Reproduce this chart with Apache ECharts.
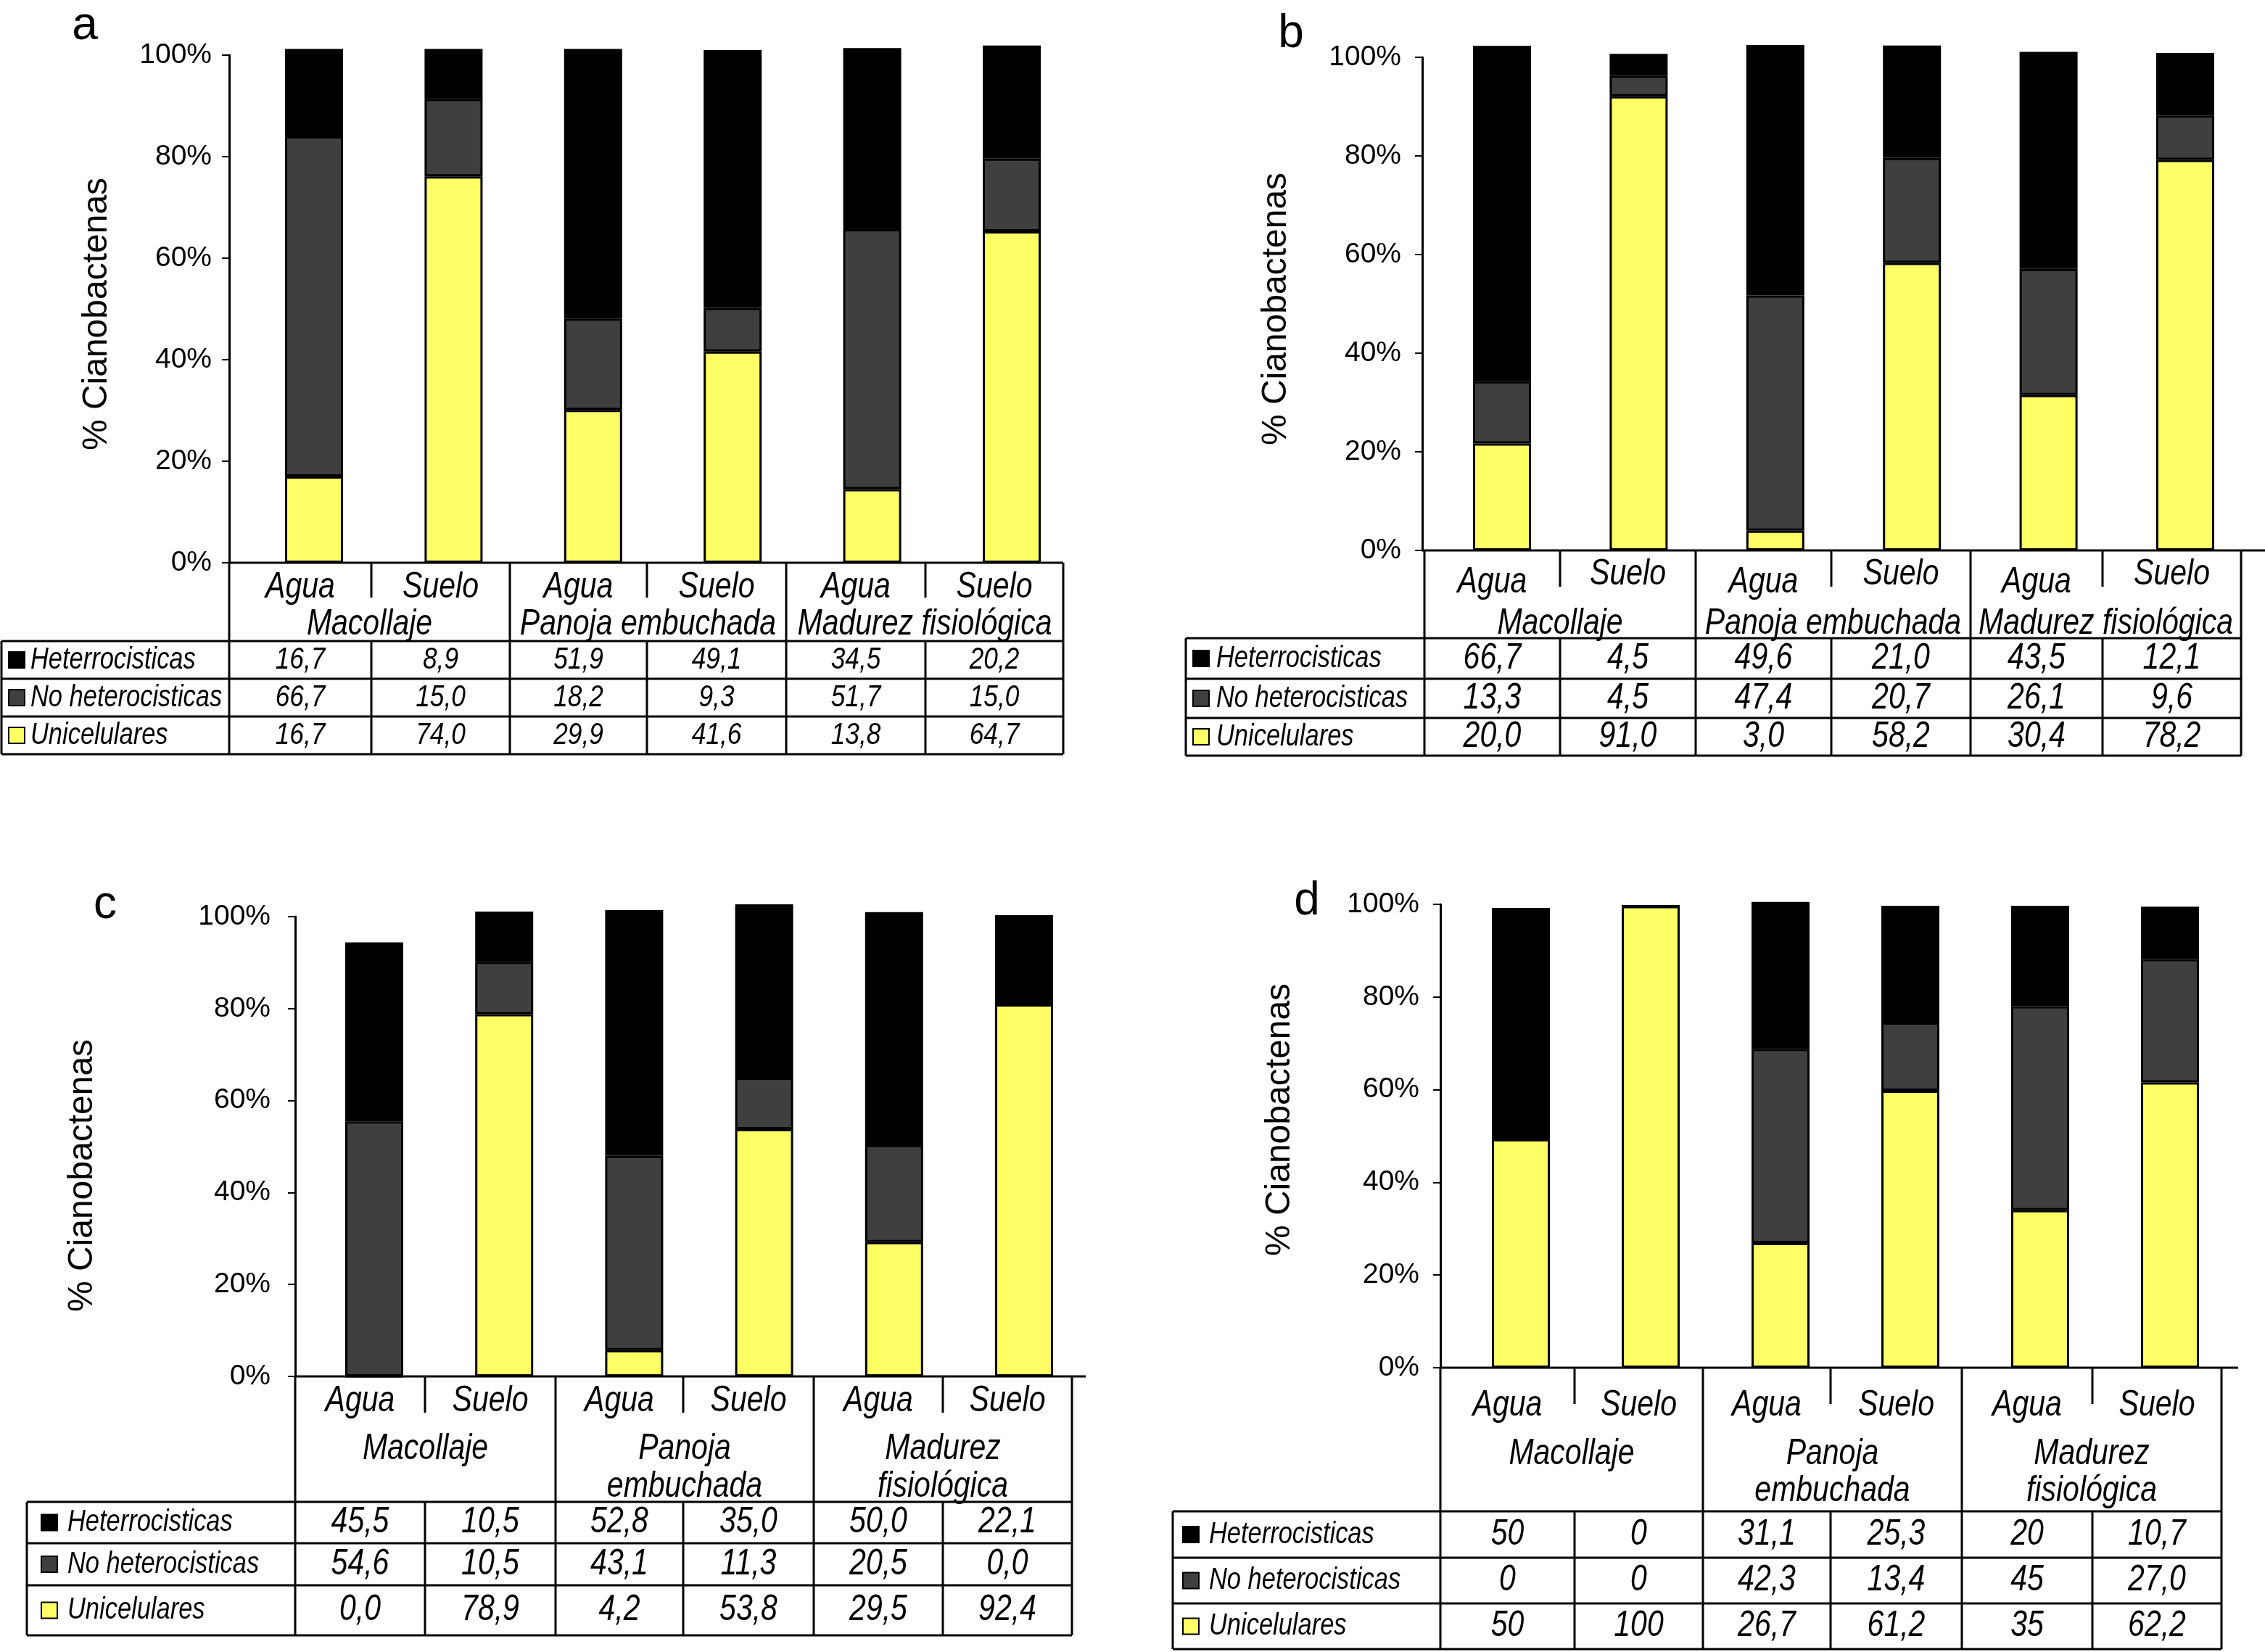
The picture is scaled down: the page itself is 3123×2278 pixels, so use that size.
<!DOCTYPE html>
<html>
<head>
<meta charset="utf-8">
<script src="https://cdn.jsdelivr.net/npm/echarts@6/dist/echarts.min.js"></script>
<style>
html,body{margin:0;padding:0;background:#fff;}
#chart{width:3123px;height:2278px;}
</style>
</head>
<body>
<div id="chart"></div>
<script>
// ---------- DATA ----------
const categories = ['Agua', 'Suelo', 'Agua', 'Suelo', 'Agua', 'Suelo'];
const seriesNames = ['Unicelulares', 'No heterocisticas', 'Heterrocisticas'];
const tableRowNames = ['Heterrocisticas', 'No heterocisticas', 'Unicelulares'];
const groupsOneLine = [['Macollaje'], ['Panoja embuchada'], ['Madurez fisiológica']];
const groupsTwoLines = [['Macollaje'], ['Panoja', 'embuchada'], ['Madurez', 'fisiológica']];
const yTickValues = [0, 20, 40, 60, 80, 100];

// bar segment heights (%)
const aUni   = [17.0, 76.1, 30.1, 41.6, 14.5, 65.3];
const aNoHet = [67.0, 15.3, 18.0,  8.6, 51.2, 14.3];
const aHet   = [17.2,  9.8, 53.1, 50.8, 35.7, 22.3];

const bUni   = [21.7, 92.1,  4.0, 58.3, 31.5, 79.2];
const bNoHet = [12.6,  4.2, 47.7, 21.3, 25.6,  9.0];
const bHet   = [68.0,  4.4, 50.8, 22.8, 44.0, 12.7];

const cUni   = [ 0.0, 78.8,  5.7, 53.8, 29.2, 80.9];
const cNoHet = [55.5, 11.4, 42.3, 11.2, 21.1,  0.0];
const cHet   = [38.9, 10.9, 53.4, 37.7, 50.7, 19.4];

const dUni   = [49.3, 99.6, 26.9, 59.8, 34.0, 61.6];
const dNoHet = [ 0.0,  0.0, 41.9, 14.7, 44.0, 26.6];
const dHet   = [49.9,  0.0, 31.7, 25.2, 21.7, 11.3];

// table texts (as printed)
const aTabHet   = ['16,7', '8,9', '51,9', '49,1', '34,5', '20,2'];
const aTabNoHet = ['66,7', '15,0', '18,2', '9,3', '51,7', '15,0'];
const aTabUni   = ['16,7', '74,0', '29,9', '41,6', '13,8', '64,7'];

const bTabHet   = ['66,7', '4,5', '49,6', '21,0', '43,5', '12,1'];
const bTabNoHet = ['13,3', '4,5', '47,4', '20,7', '26,1', '9,6'];
const bTabUni   = ['20,0', '91,0', '3,0', '58,2', '30,4', '78,2'];

const cTabHet   = ['45,5', '10,5', '52,8', '35,0', '50,0', '22,1'];
const cTabNoHet = ['54,6', '10,5', '43,1', '11,3', '20,5', '0,0'];
const cTabUni   = ['0,0', '78,9', '4,2', '53,8', '29,5', '92,4'];

const dTabHet   = ['50', '0', '31,1', '25,3', '20', '10,7'];
const dTabNoHet = ['0', '0', '42,3', '13,4', '45', '27,0'];
const dTabUni   = ['50', '100', '26,7', '61,2', '35', '62,2'];

// ---------- STYLE / LAYOUT ----------
const COLORS = ['#FFFF66', '#3F3F3F', '#000000'];
const SANS = "'Liberation Sans', Arial, sans-serif";
const NARROW_SCALE = 0.82;

const panels = [
  { letter: 'a', letterX: 117, letterY: 36, titleX: 134, titleY: 433,
    axisX: 316, yTop: 76, yBottom: 776, barC0: 433, barStep: 192.4, tickRight: 292, tickFont: 39,
    tableLeft: 2, cols: [316, 512, 703, 892, 1084, 1276, 1466], axisEnd: 1466,
    catY: [810, 810], groupY: [861], groups: groupsOneLine, shortLen: 48,
    rows: [884, 936, 988, 1040], sqX: 10, txtX: 40, labFont: 42, valFont: 43, catFont: 50, grpFont: 50,
    uni: aUni, noHet: aNoHet, het: aHet, tab: [aTabHet, aTabNoHet, aTabUni] },
  { letter: 'b', letterX: 1780, letterY: 47, titleX: 1760, titleY: 426,
    axisX: 1961, yTop: 79, yBottom: 759, barC0: 2071, barStep: 188.4, tickRight: 1932, tickFont: 39,
    tableLeft: 1635, cols: [1964, 2151, 2338, 2525, 2717, 2899, 3090], axisEnd: 3123,
    catY: [803, 792], groupY: [860], groups: groupsOneLine, shortLen: 50,
    rows: [880, 936, 990, 1042], sqX: 10, txtX: 42, labFont: 42, valFont: 50, catFont: 50, grpFont: 50,
    uni: bUni, noHet: bNoHet, het: bHet, tab: [bTabHet, bTabNoHet, bTabUni] },
  { letter: 'c', letterX: 145, letterY: 1248, titleX: 114, titleY: 1621,
    axisX: 407, yTop: 1264, yBottom: 1898, barC0: 516, barStep: 179.2, tickRight: 373, tickFont: 39,
    tableLeft: 37, cols: [407, 586, 766, 942, 1122, 1300, 1478], axisEnd: 1497,
    catY: [1932, 1932], groupY: [1998, 2050], groups: groupsTwoLines, shortLen: 50,
    rows: [2071, 2128, 2186, 2255], sqX: 20, txtX: 56, labFont: 42, valFont: 50, catFont: 50, grpFont: 50,
    uni: cUni, noHet: cNoHet, het: cHet, tab: [cTabHet, cTabNoHet, cTabUni] },
  { letter: 'd', letterX: 1802, letterY: 1243, titleX: 1765, titleY: 1544,
    axisX: 1986, yTop: 1247, yBottom: 1886, barC0: 2097, barStep: 179, tickRight: 1957, tickFont: 39,
    tableLeft: 1617, cols: [1986, 2171, 2348, 2524, 2705, 2885, 3063], axisEnd: 3086,
    catY: [1938, 1938], groupY: [2005, 2056], groups: groupsTwoLines, shortLen: 50,
    rows: [2084, 2148, 2211, 2274], sqX: 14, txtX: 50, labFont: 42, valFont: 50, catFont: 50, grpFont: 50,
    uni: dUni, noHet: dNoHet, het: dHet, tab: [dTabHet, dTabNoHet, dTabUni] }
];

const grids = [], xAxes = [], yAxes = [], series = [], graphics = [];

panels.forEach((p, i) => {
  const gridLeft = p.barC0 - p.barStep / 2;
  grids.push({ left: gridLeft, top: p.yTop, width: p.barStep * 6, height: p.yBottom - p.yTop, containLabel: false });
  xAxes.push({ type: 'category', gridIndex: i, data: categories, show: false, boundaryGap: true });
  yAxes.push({
    type: 'value', gridIndex: i, min: yTickValues[0], max: yTickValues[yTickValues.length - 1], interval: 20,
    offset: gridLeft - p.axisX,
    axisLine: { show: true, lineStyle: { color: '#000', width: 3 } },
    axisTick: { show: true, length: 10, lineStyle: { color: '#000', width: 2 } },
    axisLabel: { formatter: '{value}%', color: '#000', fontSize: p.tickFont, fontFamily: SANS, margin: p.axisX - p.tickRight },
    splitLine: { show: false }
  });
  [p.uni, p.noHet, p.het].forEach((vals, k) => {
    series.push({
      type: 'bar', name: seriesNames[k], xAxisIndex: i, yAxisIndex: i, stack: 'st' + i,
      data: vals, barWidth: 80, clip: false,
      itemStyle: { color: COLORS[k], borderColor: '#000', borderWidth: 3 },
      emphasis: { disabled: true }
    });
  });

  // letter and axis title
  graphics.push({ type: 'text', x: p.letterX, y: p.letterY, silent: true,
    style: { text: p.letter, fontSize: 64, fontFamily: SANS, fill: '#000', align: 'center', verticalAlign: 'middle' } });
  graphics.push({ type: 'text', x: p.titleX, y: p.titleY, rotation: Math.PI / 2, silent: true,
    style: { text: '% Cianobactenas', fontSize: 48, fontFamily: SANS, fill: '#000', align: 'center', verticalAlign: 'middle' } });

  // table lines
  const line = (x1, y1, x2, y2, w) => graphics.push({ type: 'line', silent: true,
    shape: { x1, y1, x2, y2 }, style: { stroke: '#000', lineWidth: w || 3 } });
  const c = p.cols, r = p.rows;
  const y0 = p.yBottom;
  line(p.axisX, y0, p.axisEnd, y0, 3);
  [0, 2, 4, 6].forEach(j => line(c[j], y0, c[j], r[3]));
  [1, 3, 5].forEach(j => { line(c[j], y0, c[j], y0 + p.shortLen); line(c[j], r[0], c[j], r[3]); });
  r.forEach(yy => line(p.tableLeft, yy, c[6], yy));
  line(p.tableLeft, r[0], p.tableLeft, r[3]);

  const text = (t, x, y, size, align) => graphics.push({ type: 'text', x, y, silent: true, scaleX: NARROW_SCALE,
    style: { text: t, fontSize: size, fontFamily: SANS, fontStyle: 'italic', fill: '#000',
      align: align || 'center', verticalAlign: 'middle' } });

  // header labels
  categories.forEach((cat, j) => text(cat, (c[j] + c[j + 1]) / 2, p.catY[j % 2], p.catFont));
  p.groups.forEach((g, gi) => g.forEach((ln, li) => text(ln, (c[2 * gi] + c[2 * gi + 2]) / 2, p.groupY[li], p.grpFont)));

  // rows
  const sqColors = [COLORS[2], COLORS[1], COLORS[0]];
  tableRowNames.forEach((nm, ri) => {
    const cy = (r[ri] + r[ri + 1]) / 2;
    graphics.push({ type: 'rect', silent: true,
      shape: { x: p.tableLeft + p.sqX, y: cy - 11, width: 22, height: 22 },
      style: { fill: sqColors[ri], stroke: '#000', lineWidth: 2 } });
    text(nm, p.tableLeft + p.txtX, cy, p.labFont, 'left');
    p.tab[ri].forEach((v, j) => text(v, (c[j] + c[j + 1]) / 2, cy, p.valFont));
  });
});

const chart = echarts.init(document.getElementById('chart'), null, { renderer: 'canvas' });
chart.setOption({
  animation: false,
  backgroundColor: '#fff',
  grid: grids,
  xAxis: xAxes,
  yAxis: yAxes,
  series: series,
  graphic: { elements: graphics }
});
</script>
</body>
</html>
